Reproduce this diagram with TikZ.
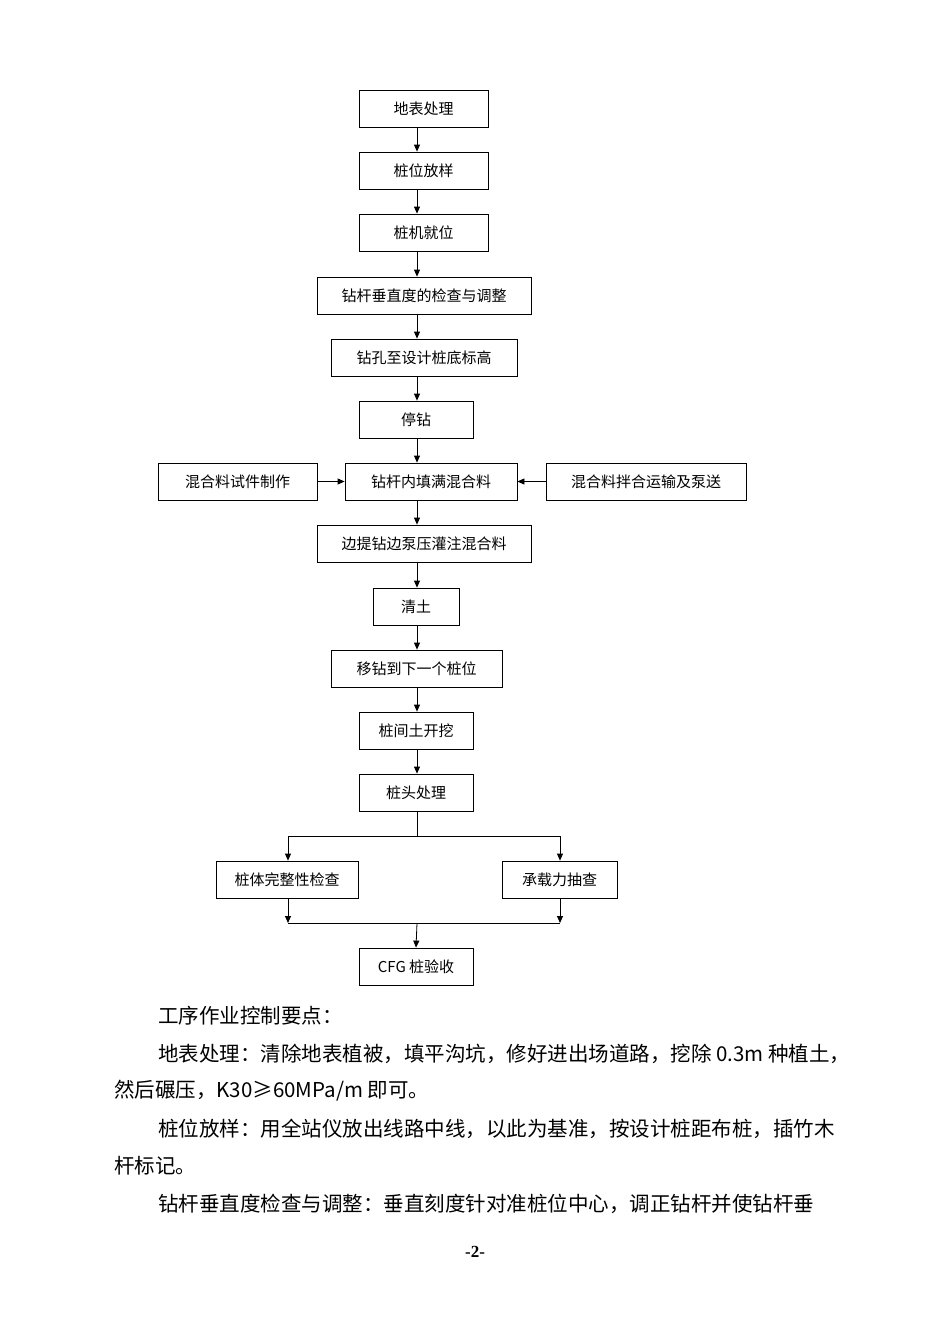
\documentclass[tikz,border=0pt]{standalone}
\usepackage{fontspec}
\setmainfont{Noto Sans CJK SC}
\newfontfamily\numfont{Liberation Serif}
\usetikzlibrary{arrows.meta}
\begin{document}
\begin{tikzpicture}[x=1pt,y=-1pt,
  bx/.style={draw,line width=0.8pt,inner sep=0pt,font=\fontsize{15}{18}\selectfont},
  ar/.style={-{Triangle[length=7pt,width=6pt]},line width=0.8pt},
  ln/.style={line width=0.8pt},
  tx/.style={anchor=west,inner sep=0pt,font=\fontsize{20.5}{24}\selectfont}]
\useasboundingbox (0,0) rectangle (950,1344);
\newcommand{\bxn}[6]{\node[bx,minimum width=#4-#3,minimum height=#6-#5] (#1) at ({(#3+#4)/2},{(#5+#6)/2}) {#2};}
\bxn{a}{地表处理}{359}{488}{90}{127}
\bxn{b}{桩位放样}{359}{488}{152}{189}
\bxn{c}{桩机就位}{359}{488}{214}{251}
\bxn{d}{钻杆垂直度的检查与调整}{317}{531}{277}{314}
\bxn{e}{钻孔至设计桩底标高}{331}{517}{339}{376}
\bxn{f}{停钻}{359}{473}{401}{438}
\bxn{g}{钻杆内填满混合料}{345}{517}{463}{500}
\bxn{gl}{混合料试件制作}{158}{317}{463}{500}
\bxn{gr}{混合料拌合运输及泵送}{546}{746}{463}{500}
\bxn{h}{边提钻边泵压灌注混合料}{317}{531}{525}{562}
\bxn{i}{清土}{373}{459}{588}{625}
\bxn{j}{移钻到下一个桩位}{331}{502}{650}{687}
\bxn{k}{桩间土开挖}{359}{473}{712}{749}
\bxn{l}{桩头处理}{359}{473}{774}{811}
\bxn{m1}{桩体完整性检查}{216}{358}{861}{898}
\bxn{m2}{承载力抽查}{502}{617}{861}{898}
\bxn{n}{CFG 桩验收}{359}{473}{948}{985}
\foreach \p/\q in {a/b,b/c,c/d,d/e,e/f,f/g,g/h,h/i,i/j,j/k,k/l}
  \draw[ar] (417,0 |- \p.south) -- (417,0 |- \q.north);
\draw[ar] (gl) -- (g);
\draw[ar] (gr) -- (g);
\coordinate (s) at (417,836);
\coordinate (sl) at (288,836);
\coordinate (sr) at (560,836);
\coordinate (t) at (417,923);
\coordinate (tl) at (288,923);
\coordinate (tr) at (560,923);
\draw[ln] (417,0 |- l.south) -- (s);
\draw[ln] (sl) -- (sr);
\draw[ar] (sl) -- (288,0 |- m1.north);
\draw[ar] (sr) -- (560,0 |- m2.north);
\draw[ar] (288,0 |- m1.south) -- (tl);
\draw[ar] (560,0 |- m2.south) -- (tr);
\draw[ln] (tl) -- (tr);
\draw[ar] (t) -- (n.north);
\node[tx] (p0) at (158,1016) {工序作业控制要点：};
\node[tx] (p1) at (158,1054) {地表处理：清除地表植被，填平沟坑，修好进出场道路，挖除 0.3m 种植土，};
\node[tx] (p2) at (114,1091) {然后碾压，K30≥60MPa/m 即可。};
\node[tx] (p3) at (158,1129) {桩位放样：用全站仪放出线路中线，以此为基准，按设计桩距布桩，插竹木};
\node[tx] (p4) at (114,1166) {杆标记。};
\node[tx] (p5) at (158,1204) {钻杆垂直度检查与调整：垂直刻度针对准桩位中心，调正钻杆并使钻杆垂};
\node[inner sep=0pt,font=\numfont\bfseries\fontsize{17}{20}\selectfont] (pg) at (475,1252) {-2-};
\end{tikzpicture}
\end{document}
